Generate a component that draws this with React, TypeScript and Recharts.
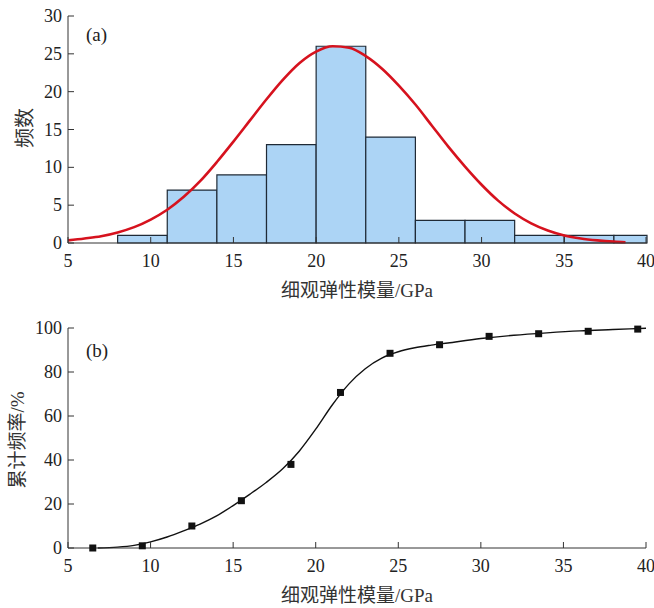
import {
  ComposedChart,
  Line,
  Scatter,
  XAxis,
  YAxis,
  ReferenceArea,
} from 'recharts';

// (a) histogram
const binEdges = [8, 11, 14, 17, 20, 23, 26, 29, 32, 35, 38, 40];
const binCounts = [1, 7, 9, 13, 26, 14, 3, 3, 1, 1, 1];

// (a) fitted normal curve
const fitX = [5, 6, 7, 8, 9, 10, 11, 12, 13, 14, 15, 16, 17, 18, 19, 20, 21, 22, 23, 24, 25, 26, 27, 28, 29, 30, 31, 32, 33, 34, 35, 36, 37, 38, 38.7];
const fitY = [0.35, 0.6, 0.9, 1.4, 2.1, 3.1, 4.4, 6.1, 8.2, 10.7, 13.4, 16.2, 19, 21.6, 23.8, 25.3, 26, 25.8, 24.7, 23, 20.8, 18.3, 15.5, 12.7, 10.1, 7.7, 5.6, 3.9, 2.6, 1.65, 1.0, 0.6, 0.35, 0.18, 0.1];

// (b) cumulative frequency points
const cumX = [6.5, 9.5, 12.5, 15.5, 18.5, 21.5, 24.5, 27.5, 30.5, 33.5, 36.5, 39.5];
const cumY = [0, 1, 10, 21.5, 38, 70.7, 88.5, 92.4, 96.2, 97.4, 98.5, 99.5];

// (b) fitted curve
const curveX = [6.8, 8, 9, 10, 11, 12, 13, 14, 15, 16, 17, 18, 19, 20, 21, 22, 23, 24, 25, 26, 27, 28, 30, 32, 34, 36, 38, 40];
const curveY = [0, 0.4, 1.2, 2.8, 5, 7.8, 10.9, 14.6, 19.3, 24.4, 29.8, 36, 44, 54, 65, 74.5, 81.5, 86.3, 89.2, 91, 92.2, 93.2, 95.2, 96.7, 97.8, 98.7, 99.3, 99.9];

const xTicks = [5, 10, 15, 20, 25, 30, 35, 40];
const yTicksA = [0, 5, 10, 15, 20, 25, 30];
const yTicksB = [0, 20, 40, 60, 80, 100];

const fitData = fitX.map((x, i) => ({ x, y: fitY[i] }));
const cumData = cumX.map((x, i) => ({ x, y: cumY[i] }));
const curveData = curveX.map((x, i) => ({ x, y: curveY[i] }));

const numFont = "'Liberation Serif', 'DejaVu Serif', serif";
const cjkFont = "'Liberation Serif', 'Noto Sans CJK SC', serif";
const axisColor = '#333';

const XTick = (props: any) => {
  const { x, y, payload } = props;
  return (
    <g>
      <line x1={x} x2={x} y1={y} y2={y - 6} stroke={axisColor} strokeWidth={1} />
      <text x={x} y={y + 24} textAnchor='middle' style={{ fontFamily: numFont, fontSize: 18 }} fill='#222'>
        {payload.value}
      </text>
    </g>
  );
};

const YTick = (props: any) => {
  const { x, y, payload } = props;
  return (
    <g>
      <line x1={x} x2={x + 6} y1={y} y2={y} stroke={axisColor} strokeWidth={1} />
      <text x={x - 6} y={y + 6} textAnchor='end' style={{ fontFamily: numFont, fontSize: 18 }} fill='#222'>
        {payload.value}
      </text>
    </g>
  );
};

const SquareDot = (props: any) => {
  const { cx, cy } = props;
  return <rect x={cx - 3.5} y={cy - 3.5} width={7} height={7} fill='#111' />;
};

function App() {
  return (
    <div style={{ position: 'absolute', left: 0, top: 0, width: 654, height: 608, background: '#fff' }}>
      <ComposedChart width={654} height={305} margin={{ top: 16, right: 7, left: 0, bottom: 32 }}>
        <XAxis
          type='number'
          dataKey='x'
          domain={[5, 40]}
          ticks={xTicks}
          allowDataOverflow
          height={30}
          tickSize={0}
          tickMargin={0}
          tickLine={false}
          stroke={axisColor}
          tick={<XTick />}
        />
        <YAxis
          type='number'
          dataKey='y'
          domain={[0, 30]}
          ticks={yTicksA}
          width={68}
          tickSize={0}
          tickMargin={0}
          tickLine={false}
          stroke={axisColor}
          tick={<YTick />}
        />

        {binCounts.map((c, i) => (
          <ReferenceArea
            key={i}
            x1={binEdges[i]}
            x2={binEdges[i + 1]}
            y1={0}
            y2={c}
            fill='#acd4f5'
            fillOpacity={1}
            stroke='#1f2a36'
            strokeWidth={1.2}
            ifOverflow='extendDomain'
          />
        ))}

        <Line
          data={fitData}
          dataKey='y'
          type='monotone'
          stroke='#d6121e'
          strokeWidth={2.6}
          dot={false}
          isAnimationActive={false}
        />

        <text x={86} y={34} dominantBaseline='central' style={{ fontFamily: numFont, fontSize: 19 }} fill='#222'>
          (a)
        </text>
        <text
          x={25}
          y={128}
          transform='rotate(-90, 25, 128)'
          textAnchor='middle'
          dominantBaseline='central'
          style={{ fontFamily: cjkFont, fontSize: 20 }}
          fill='#333'
        >
          频数
        </text>
        <text x={357} y={290} textAnchor='middle' dominantBaseline='central' style={{ fontFamily: cjkFont, fontSize: 19 }} fill='#333'>
          细观弹性模量/GPa
        </text>
      </ComposedChart>

      <ComposedChart width={654} height={303} margin={{ top: 23, right: 8, left: 0, bottom: 30 }}>
        <XAxis
          type='number'
          dataKey='x'
          domain={[5, 40]}
          ticks={xTicks}
          allowDataOverflow
          height={30}
          tickSize={0}
          tickMargin={0}
          tickLine={false}
          stroke={axisColor}
          tick={<XTick />}
        />
        <YAxis
          type='number'
          dataKey='y'
          domain={[0, 100]}
          ticks={yTicksB}
          width={68}
          tickSize={0}
          tickMargin={0}
          tickLine={false}
          stroke={axisColor}
          tick={<YTick />}
        />

        <Line
          data={curveData}
          dataKey='y'
          type='monotone'
          stroke='#111'
          strokeWidth={1.4}
          dot={false}
          isAnimationActive={false}
        />
        <Scatter data={cumData} dataKey='y' shape={<SquareDot />} isAnimationActive={false} />

        <text x={86} y={45} dominantBaseline='central' style={{ fontFamily: numFont, fontSize: 19 }} fill='#222'>
          (b)
        </text>
        <text
          x={17}
          y={135}
          transform='rotate(-90, 17, 135)'
          textAnchor='middle'
          dominantBaseline='central'
          style={{ fontFamily: cjkFont, fontSize: 19 }}
          fill='#333'
        >
          累计频率/%
        </text>
        <text x={357} y={290} textAnchor='middle' dominantBaseline='central' style={{ fontFamily: cjkFont, fontSize: 19 }} fill='#333'>
          细观弹性模量/GPa
        </text>
      </ComposedChart>
    </div>
  );
}

export default App;
